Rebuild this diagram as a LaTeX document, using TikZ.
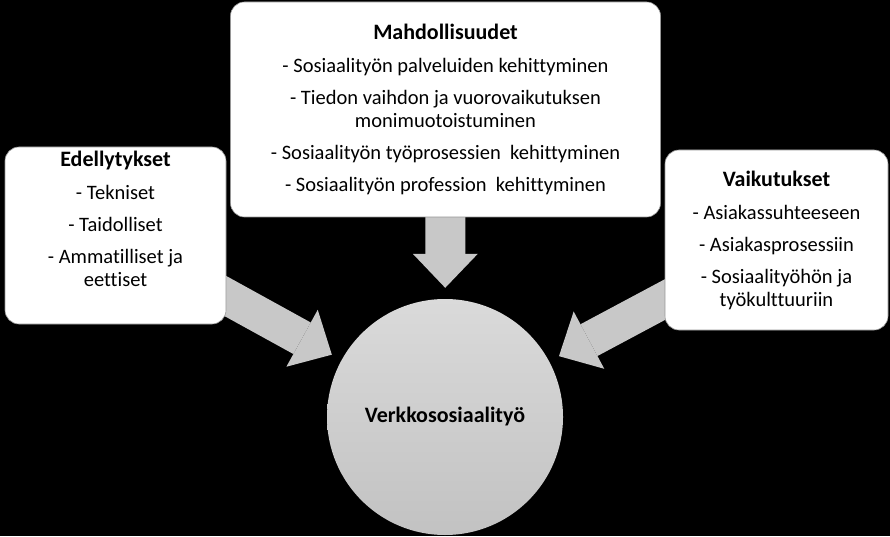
\documentclass[tikz,border=0pt]{standalone}
\usepackage{fontspec}
\setmainfont{Carlito}[Ligatures=NoCommon]
\usepackage{xcolor}
\usepackage{tikz}
\usetikzlibrary{arrows.meta, positioning, backgrounds}
\definecolor{arrowgrey}{RGB}{200, 200, 200}
\definecolor{circletop}{RGB}{218, 218, 218}
\definecolor{circlebottom}{RGB}{194, 194, 194}
\definecolor{boxedge}{RGB}{150, 150, 150}
\newcommand{\boxhead}[1]{{\fontsize{22}{23}\selectfont\bfseries #1}}

\begin{document}
\begin{tikzpicture}[x=1pt, y=1pt,
    infobox/.style={draw=boxedge, line width=0.6pt, fill=white, rounded corners=14pt, inner sep=0pt},
    boxtext/.style={align=center, inner sep=0pt, font=\fontsize{20.5}{23}\selectfont},
    bigarrow/.style={arrowgrey, line width=#1, shorten >=11pt,
        -{Triangle[length=34pt, width=65pt, line width=0pt]}},
    bigarrow/.default=36pt]

    % 1. BOXES AND CIRCLE
    \node[infobox, minimum width=430pt, minimum height=215pt] (mahd) at (445.5, 426.5) {};
    \node[infobox, minimum width=221pt, minimum height=177pt] (edel) at (115.5, 300.5) {};
    \node[infobox, minimum width=223pt, minimum height=180pt] (vaik) at (776.5, 296) {};
    \node[circle, minimum size=236pt, inner sep=0pt, top color=circletop, bottom color=circlebottom,
        font=\fontsize{22}{23}\selectfont\bfseries] (verkko) at (445, 119) {Verkkososiaalityö};

    % 2. BOX TEXTS
    \node[boxtext, below=22.5pt of mahd.north] (mahdtext) {\boxhead{Mahdollisuudet}\\[10pt]
        - Sosiaalityön palveluiden kehittyminen\\[9pt]
        - Tiedon vaihdon ja vuorovaikutuksen\\ monimuotoistuminen\\[9pt]
        - Sosiaalityön työprosessien\ \ kehittyminen\\[9pt]
        - Sosiaalityön profession\ \ kehittyminen};
    \node[boxtext, below=4.5pt of edel.north] (edeltext) {\boxhead{Edellytykset}\\[10pt]
        - Tekniset\\[9pt]
        - Taidolliset\\[9pt]
        - Ammatilliset ja\\ eettiset};
    \node[boxtext, below=21.5pt of vaik.north] (vaiktext) {\boxhead{Vaikutukset}\\[10pt]
        - Asiakassuhteeseen\\[9pt]
        - Asiakasprosessiin\\[9pt]
        - Sosiaalityöhön ja\\ työkulttuuriin};

    % 3. BLACK GROUND AND BIG ARROWS (behind the boxes)
    \begin{scope}[on background layer]
        \fill[black] (0,0) rectangle (890,536);
        \draw[bigarrow=40pt] (mahd.center) -- (verkko);
        \draw[bigarrow] (edel.center) -- (verkko);
        \draw[bigarrow] (vaik.center) -- (verkko);
    \end{scope}
    \useasboundingbox (0,0) rectangle (890,536);

\end{tikzpicture}
\end{document}
